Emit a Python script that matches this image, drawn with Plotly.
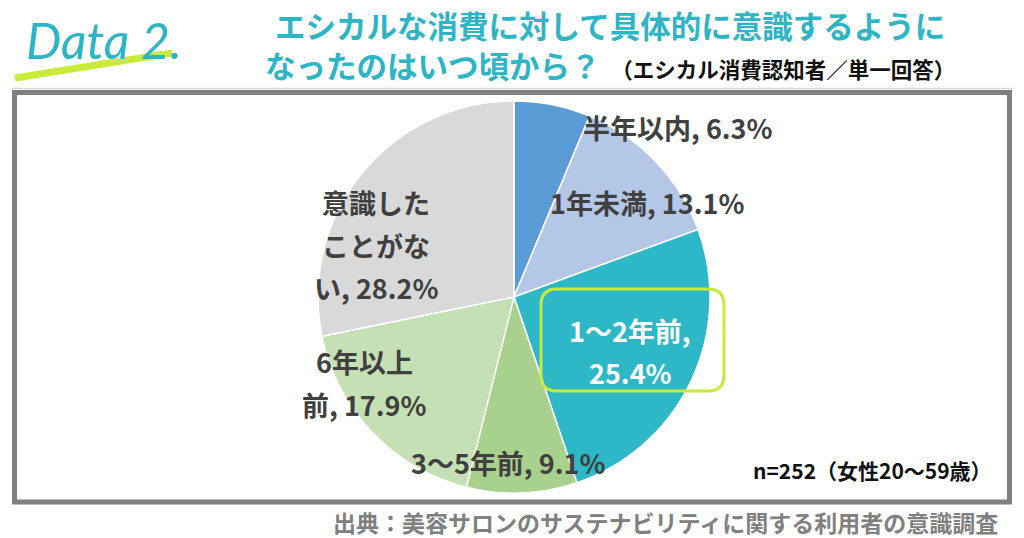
import plotly.graph_objects as go

W, H = 1024, 538

# ---- data ----
categories = ["半年以内", "1年未満", "1～2年前", "3～5年前", "6年以上前", "意識したことがない"]
values = [6.3, 13.1, 25.4, 9.1, 17.9, 28.2]
colors = ["#5B9BD5", "#B4C7E7", "#2DB7C7", "#A9D18E", "#C5E0B4", "#D9D9D9"]

# label lines (text wrapping as in the original)
label_lines = [
    [f"{categories[0]}, {values[0]}%"],
    [f"{categories[1]}, {values[1]}%"],
    [f"{categories[2]},", f"{values[2]}%"],
    [f"{categories[3]}, {values[3]}%"],
    ["6年以上", f"前, {values[4]}%"],
    ["意識した", "ことがな", f"い, {values[5]}%"],
]
label_centers = [(678, 127), (647, 203), (630, 351), (508, 462), (364, 383), (376, 245)]
label_colors = ["#404040", "#404040", "#FFFFFF", "#404040", "#404040", "#404040"]

title_line1 = "エシカルな消費に対して具体的に意識するように"
title_line2 = "なったのはいつ頃から？"
title_sub = "（エシカル消費認知者／単一回答）"
note = "n=252（女性20～59歳）"
source = "出典：美容サロンのサステナビリティに関する利用者の意識調査"

JP = "Noto Sans CJK JP"
TEAL = "#2DB5C6"
LIME = "#C8EA3A"


def px(x):
    return x / W


def py(y):
    return 1 - y / H


# pie geometry (pixels)
cx, cy, r = 514, 297, 196

fig = go.Figure()
fig.add_trace(go.Pie(
    labels=categories, values=values, sort=False, direction="clockwise",
    rotation=0, marker=dict(colors=colors, line=dict(color="white", width=1.5)),
    textinfo="none", hoverinfo="label+percent", showlegend=False,
    domain=dict(x=[px(cx - r), px(cx + r)], y=[py(cy + r), py(cy - r)]),
))

annotations = []
shapes = []

# frame
shapes.append(dict(type="line", xref="paper", yref="paper", x0=px(12), x1=px(1013),
                   y0=py(88.5), y1=py(88.5), line=dict(color="#D6D6D6", width=1.5)))
shapes.append(dict(type="rect", xref="paper", yref="paper", x0=px(14.5), x1=px(1009.5),
                   y0=py(502), y1=py(92.5), line=dict(color="#808080", width=5)))


def rounded_rect(x0, y0, x1, y1, rr):
    pts = [
        f"M {px(x0 + rr)},{py(y0)}",
        f"L {px(x1 - rr)},{py(y0)}",
        f"Q {px(x1)},{py(y0)} {px(x1)},{py(y0 + rr)}",
        f"L {px(x1)},{py(y1 - rr)}",
        f"Q {px(x1)},{py(y1)} {px(x1 - rr)},{py(y1)}",
        f"L {px(x0 + rr)},{py(y1)}",
        f"Q {px(x0)},{py(y1)} {px(x0)},{py(y1 - rr)}",
        f"L {px(x0)},{py(y0 + rr)}",
        f"Q {px(x0)},{py(y0)} {px(x0 + rr)},{py(y0)}",
        "Z",
    ]
    return " ".join(pts)


# lime rounded box around highlighted label
shapes.append(dict(type="path", xref="paper", yref="paper",
                   path=rounded_rect(541, 289, 724, 391, 16),
                   line=dict(color=LIME, width=3)))

# "Data 2." logo underline
shapes.append(dict(type="line", xref="paper", yref="paper", x0=px(15), y0=py(78),
                   x1=px(172), y1=py(53), line=dict(color=LIME, width=7)))

annotations.append(dict(text="<i>Data 2.</i>", xref="paper", yref="paper",
                        x=px(24), y=py(40), xanchor="left", yanchor="middle",
                        showarrow=False, font=dict(family="Lato", size=50, color=TEAL)))

# title (two lines in one text block; second line carries the black subtitle)
title_text = (f"<b>{title_line1}</b><br><b>{title_line2}</b>"
              f"<span style='font-size:21.5px;color:#111111'><b>\u2002{title_sub}</b></span>")
annotations.append(dict(text=title_text, xref="paper", yref="paper",
                        x=px(610), y=py(0.5), xanchor="center", yanchor="top",
                        align="center", showarrow=False,
                        font=dict(family=JP, size=30.5, color=TEAL)))

# slice labels
LINE_GAP = 42
for lines, (lx, ly), col in zip(label_lines, label_centers, label_colors):
    n = len(lines)
    for i, t in enumerate(lines):
        yy = ly + (i - (n - 1) / 2) * LINE_GAP
        annotations.append(dict(text=f"<b>{t}</b>", xref="paper", yref="paper",
                                x=px(lx), y=py(yy), xanchor="center", yanchor="middle",
                                showarrow=False, font=dict(family=JP, size=27, color=col)))

# note and source
annotations.append(dict(text=f"<b>{note}</b>", xref="paper", yref="paper",
                        x=px(994), y=py(470), xanchor="right", yanchor="middle",
                        showarrow=False, font=dict(family=JP, size=21, color="#111111")))
annotations.append(dict(text=f"<b>{source}</b>", xref="paper", yref="paper",
                        x=px(1000), y=py(522), xanchor="right", yanchor="middle",
                        showarrow=False, font=dict(family=JP, size=23, color="#808080")))

fig.update_layout(
    width=W, height=H, margin=dict(l=0, r=0, t=0, b=0),
    paper_bgcolor="white", plot_bgcolor="white",
    annotations=annotations, shapes=shapes,
)

fig.write_html("out.html")
